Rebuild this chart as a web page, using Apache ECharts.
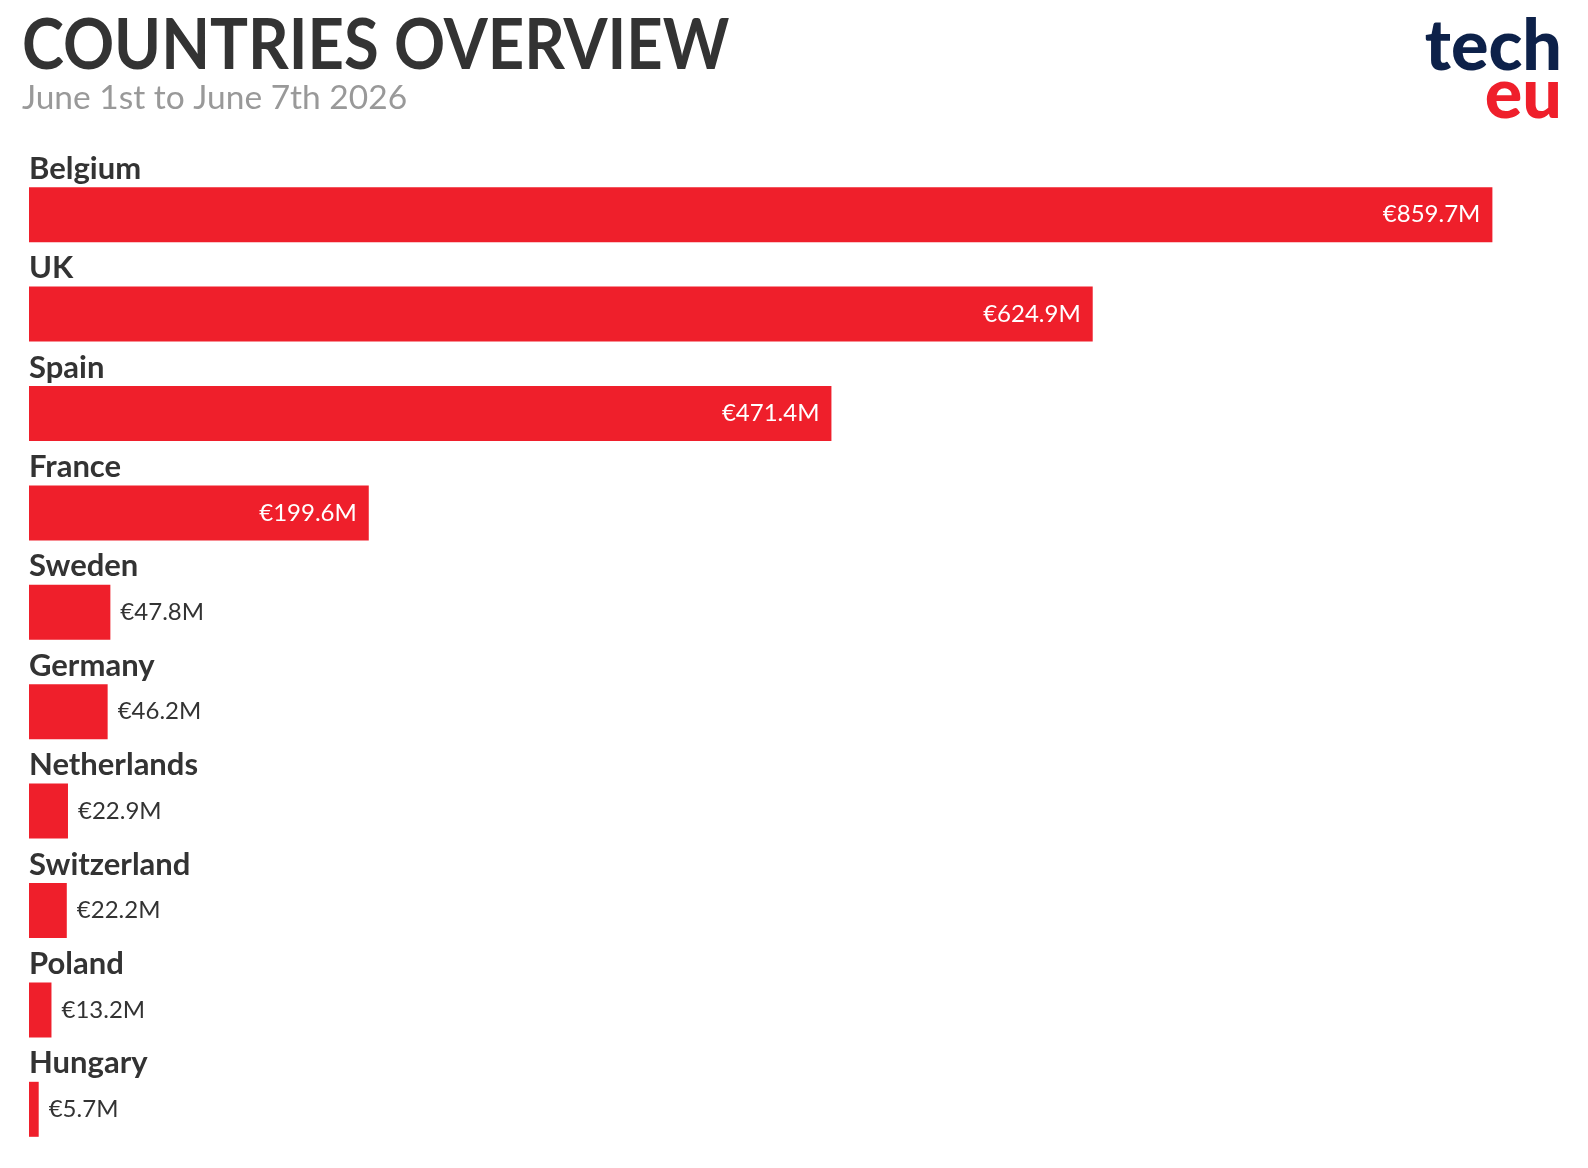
<!DOCTYPE html>
<html>
<head>
<meta charset="utf-8">
<script src="https://cdn.jsdelivr.net/npm/echarts@6/dist/echarts.min.js"></script>
<style>
  html, body { margin: 0; padding: 0; background: #fff; }
  #chart { width: 1588px; height: 1168px; }
</style>
</head>
<body>
<div id="chart"></div>
<script>
const countries = ["Belgium", "UK", "Spain", "France", "Sweden", "Germany", "Netherlands", "Switzerland", "Poland", "Hungary"];
const amounts = [859.7, 624.9, 471.4, 199.6, 47.8, 46.2, 22.9, 22.2, 13.2, 5.7];
const insideMin = 100; // bars bigger than this get the label inside

const FONT = 'Lato, "Source Sans Pro", sans-serif';
const RED = "#ef1f2b";
const DARK = "#333333";

const chart = echarts.init(document.getElementById("chart"));

chart.setOption({
  backgroundColor: "#ffffff",
  animation: false,
  grid: { left: 29, right: 27, top: 165, bottom: 9, containLabel: false },
  xAxis: { type: "value", min: 0, max: 900, show: false },
  yAxis: {
    type: "category",
    inverse: true,
    data: countries,
    show: false
  },
  series: [
    {
      type: "bar",
      barWidth: 55,
      itemStyle: { color: RED },
      data: amounts.map(v => ({
        value: v,
        label: v > insideMin
          ? { position: "insideRight", distance: 12, color: "#ffffff" }
          : { position: "right", distance: 10, color: DARK }
      })),
      label: {
        show: true,
        fontFamily: FONT,
        fontSize: 24,
        formatter: p => "€" + p.value.toFixed(1) + "M"
      }
    },
    {
      // transparent twin carrying the country names above each bar
      type: "bar",
      barWidth: 55,
      barGap: "-100%",
      silent: true,
      itemStyle: { color: "transparent" },
      data: amounts,
      label: {
        show: true,
        position: [0, -3],
        align: "left",
        verticalAlign: "bottom",
        fontFamily: FONT,
        fontSize: 31,
        fontWeight: "bold",
        color: DARK,
        formatter: p => p.name
      }
    }
  ],
  graphic: [
    {
      type: "text",
      x: 22,
      y: 11,
      scaleX: 0.905,
      style: { text: "COUNTRIES OVERVIEW", font: "bold 70px Lato, sans-serif", fill: DARK }
    },
    {
      type: "text",
      x: 22,
      y: 81,
      style: { text: "June 1st to June 7th 2026", font: "33.5px Lato, sans-serif", fill: "#999999" }
    },
    {
      type: "text",
      right: 26,
      top: 12,
      style: { text: "tech", font: "900 70px Lato, sans-serif", fill: "#0d2149" }
    },
    {
      type: "text",
      right: 26,
      top: 60,
      style: { text: "eu", font: "900 70px Lato, sans-serif", fill: RED }
    }
  ]
});
</script>
</body>
</html>
